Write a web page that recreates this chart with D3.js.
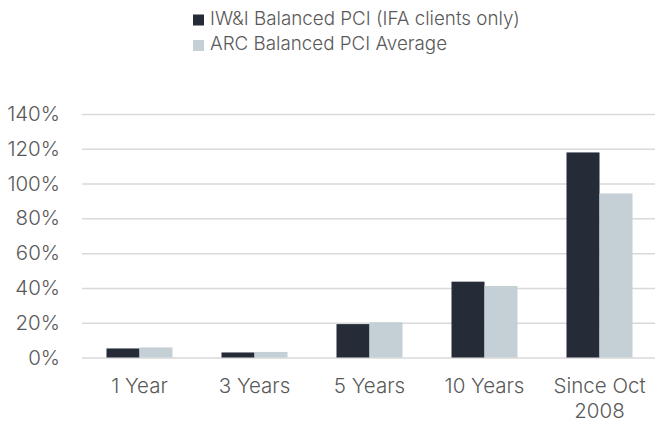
<!DOCTYPE html>
<html>
<head>
<meta charset="utf-8">
<script src="https://cdn.jsdelivr.net/npm/d3@7"></script>
<style>
  body { margin: 0; background: #fff; }
  text { font-family: Inter, "Noto Sans", sans-serif; font-weight: 300; fill: #595959; }
</style>
</head>
<body>
<script>
// chart data
var categories = ["1 Year", "3 Years", "5 Years", "10 Years", "Since Oct 2008"],
    seriesNames = ["IW&I Balanced PCI (IFA clients only)", "ARC Balanced PCI Average"],
    iwiValues = [5.2, 2.9, 19.2, 43.6, 117.9],
    arcValues = [5.8, 3.2, 20.3, 41.1, 94.3],
    yTicks = [0, 20, 40, 60, 80, 100, 120, 140],
    colours = ["#252b37", "#c4d0d5"];

var width = 655, height = 423,
    margin = {top: 114, right: -2, bottom: 65.5, left: 82};

var figure = d3.select("body")
    .append("svg")
        .attr("width", width)
        .attr("height", height);

var data = categories.map(function(c, i) {
    return {cat: c, values: [iwiValues[i], arcValues[i]]};
});

var x0 = d3.scaleBand()
    .domain(categories)
    .range([margin.left, width - margin.right])
    .paddingInner(0.426)
    .paddingOuter(0.213);

var x1 = d3.scaleBand()
    .domain([0, 1])
    .range([0, x0.bandwidth()]);

var y = d3.scaleLinear()
    .domain([0, 140])
    .range([height - margin.bottom, margin.top]);

// gridlines + y labels
var yAxis = figure.append("g")
    .attr("transform", "translate(" + margin.left + ",0)")
    .call(d3.axisLeft(y)
        .tickValues(yTicks)
        .tickSize(-(width - margin.right - margin.left))
        .tickPadding(22)
        .tickFormat(function(d) { return d + "%"; }));
yAxis.select(".domain").remove();
yAxis.selectAll(".tick line")
    .attr("stroke", "#d9d9d9")
    .attr("stroke-width", 1.5);
yAxis.selectAll(".tick text")
    .attr("font-size", 20.5)
    .attr("fill", "#595959");

// bars
figure.append("g")
    .selectAll("g")
    .data(data)
    .enter()
    .append("g")
    .attr("transform", function(d) { return "translate(" + x0(d.cat) + ",0)"; })
    .selectAll("rect")
    .data(function(d) { return d.values; })
    .enter()
    .append("rect")
    .attr("x", function(d, i) { return x1(i); })
    .attr("width", x1.bandwidth())
    .attr("y", function(d) { return y(d); })
    .attr("height", function(d) { return y(0) - y(d); })
    .attr("fill", function(d, i) { return colours[i]; });

// x labels (wrapped)
var xLabels = figure.append("g")
    .selectAll("text")
    .data(categories)
    .enter()
    .append("text")
    .attr("text-anchor", "middle")
    .attr("font-size", 20.5)
    .attr("x", function(d) { return x0(d) + x0.bandwidth() / 2; })
    .attr("y", 392.5);
xLabels.each(function(d) {
    var lines = d === "Since Oct 2008" ? ["Since Oct", "2008"] : [d];
    var t = d3.select(this);
    lines.forEach(function(l, i) {
        t.append("tspan")
            .attr("x", t.attr("x"))
            .attr("dy", i === 0 ? 0 : 25.5)
            .text(l);
    });
});

// legend
var legend = figure.append("g")
    .selectAll("g")
    .data(seriesNames)
    .enter()
    .append("g")
    .attr("transform", function(d, i) { return "translate(193," + (14.5 + i * 25.5) + ")"; });
legend.append("rect")
    .attr("width", 11)
    .attr("height", 11)
    .attr("fill", function(d, i) { return colours[i]; });
legend.append("text")
    .attr("x", 17)
    .attr("y", 10)
    .attr("font-size", 18.8)
    .text(function(d) { return d; });
</script>
</body>
</html>
